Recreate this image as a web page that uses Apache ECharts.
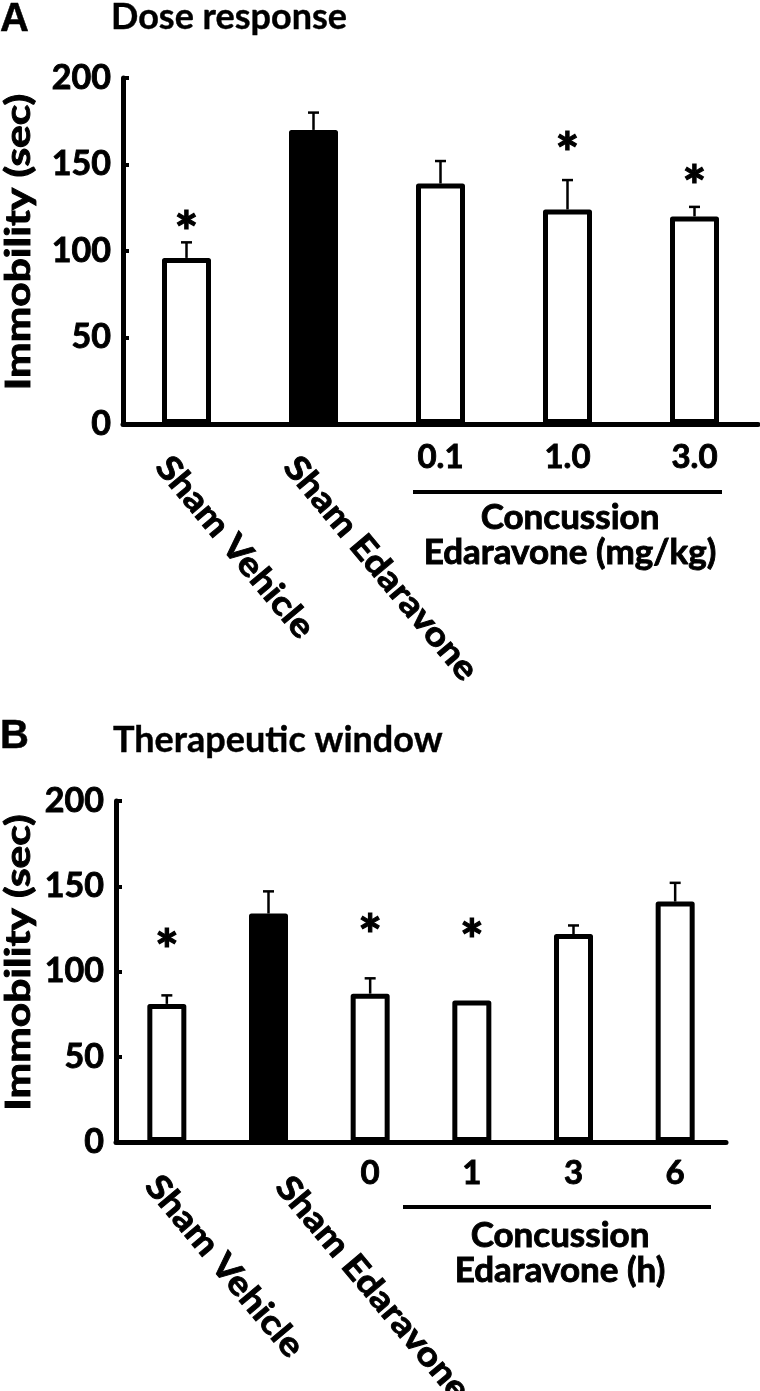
<!DOCTYPE html>
<html><head><meta charset="utf-8">
<script src="https://cdn.jsdelivr.net/npm/echarts/dist/echarts.min.js"></script>
<style>html,body{margin:0;padding:0;background:#fff}#c{width:760px;height:1391px}</style>
</head><body><div id="c"></div>
<script>
// ---- data ----
const categoriesA = ['Sham Vehicle', 'Sham Edaravone', '0.1', '1.0', '3.0'];
const valuesA = [96, 170, 139, 124, 120];
const errorsA = [9, 10, 13, 17, 5.5];
const starsA = [118.6, null, null, 164.4, 145.3];

const categoriesB = ['Sham Vehicle', 'Sham Edaravone', '0', '1', '3', '6'];
const valuesB = [81, 134, 87, 83, 122, 141];
const errorsB = [5, 13, 9, 0, 5, 11];
const starsB = [120.3, null, 129, 126.1, null, null];

const yMin = 0, yMax = 200, yStep = 50;
const titleA = 'Dose response';
const titleB = 'Therapeutic window';
const yTitle = 'Immobility (sec)';
const groupLabelA = ['Concussion', 'Edaravone (mg/kg)'];
const groupLabelB = ['Concussion', 'Edaravone (h)'];
const blackCategory = 'Sham Edaravone';

// ---- chart ----
const FONT = 'Lato, "Open Sans", sans-serif';
const HEAVY = 0.9; // extra stroke to mimic the heavy original weight
const chart = echarts.init(document.getElementById('c'), null, {renderer: 'canvas'});

function isSham(v) { return v.indexOf('Sham') === 0; }

function xAxisCfg(gi, cats, margin) {
  return {
    type: 'category', gridIndex: gi, data: cats,
    axisLine: {show: true, lineStyle: {color: '#000', width: 5}},
    axisTick: {show: false},
    splitLine: {show: false},
    axisLabel: {
      interval: (idx, v) => !isSham(v),
      margin: margin, color: '#000', fontFamily: FONT, fontWeight: 'bold', fontSize: 33,
      textBorderColor: '#000', textBorderWidth: HEAVY
    }
  };
}
function yAxisCfg(gi) {
  return {
    type: 'value', gridIndex: gi, min: yMin, max: yMax, interval: yStep,
    axisLine: {show: true, lineStyle: {color: '#000', width: 5}},
    axisTick: {show: true, inside: true, length: 6, lineStyle: {color: '#000', width: 4}},
    splitLine: {show: false},
    axisLabel: {margin: 12, color: '#000', fontFamily: FONT, fontWeight: 'bold', fontSize: 34,
      textBorderColor: '#000', textBorderWidth: HEAVY}
  };
}
function barSeries(gi, cats, vals, bw) {
  return {
    type: 'bar', xAxisIndex: gi, yAxisIndex: gi, barWidth: bw, z: 2,
    data: vals.map((v, i) => ({
      value: v,
      itemStyle: {
        color: cats[i] === blackCategory ? '#000' : '#fff',
        borderColor: '#000', borderWidth: 5, borderJoin: 'round'
      }
    })),
    emphasis: {disabled: true}
  };
}
function errSeries(gi, vals, errs) {
  return {
    type: 'custom', xAxisIndex: gi, yAxisIndex: gi, z: 3, silent: true,
    data: vals.map((v, i) => [i, v, v + errs[i]]),
    renderItem(params, api) {
      const x = api.value(0);
      const lo = api.coord([x, api.value(1)]);
      const hi = api.coord([x, api.value(2)]);
      if (lo[1] - hi[1] < 1) return null;
      const hw = 5.5;
      return {type: 'group', children: [
        {type: 'line', shape: {x1: lo[0], y1: lo[1], x2: hi[0], y2: hi[1]}, style: {stroke: '#000', lineWidth: 2.5}},
        {type: 'line', shape: {x1: hi[0] - hw, y1: hi[1], x2: hi[0] + hw, y2: hi[1]}, style: {stroke: '#000', lineWidth: 2.5}}
      ]};
    }
  };
}
function starSeries(gi, stars) {
  return {
    type: 'custom', xAxisIndex: gi, yAxisIndex: gi, z: 4, silent: true,
    data: stars.map((v, i) => v == null ? null : [i, v]).filter(Boolean),
    renderItem(params, api) {
      const p = api.coord([api.value(0), api.value(1)]);
      return {type: 'text', x: p[0], y: p[1] + 15,
        style: {text: '*', font: 'bold 56px ' + FONT, align: 'center', verticalAlign: 'middle',
          fill: '#000', stroke: '#000', lineWidth: 1.2}};
    }
  };
}

chart.setOption({
  animation: false,
  backgroundColor: '#fff',
  grid: [
    {left: 123, width: 635, top: 78, height: 346},
    {left: 116, width: 610, top: 801, height: 341}
  ],
  xAxis: [xAxisCfg(0, categoriesA, 17), xAxisCfg(1, categoriesB, 15)],
  yAxis: [yAxisCfg(0), yAxisCfg(1)],
  series: [
    barSeries(0, categoriesA, valuesA, 49),
    errSeries(0, valuesA, errorsA),
    starSeries(0, starsA),
    barSeries(1, categoriesB, valuesB, 39),
    errSeries(1, valuesB, errorsB),
    starSeries(1, starsB)
  ]
});

// ---- annotations positioned from the axes ----
function txt(x, y, text, size, opts) {
  opts = opts || {};
  return Object.assign({
    type: 'text', x: x, y: y, silent: true,
    style: Object.assign({text: text, font: 'bold ' + size + 'px ' + FONT, fill: '#000',
      stroke: '#000', lineWidth: HEAVY,
      align: 'center', verticalAlign: 'middle'}, opts.style || {})
  }, opts.el || {});
}
const gr = [];
const LETTER = 'bold 40px "Liberation Sans", Arial, sans-serif';
// panel letters & titles
gr.push(txt(0, 20, 'A', 40, {style: {align: 'left', font: LETTER, lineWidth: 0.5}}));
gr.push(txt(111, 17, titleA, 36, {style: {align: 'left', lineWidth: 0.4}}));
gr.push(txt(0, 737, 'B', 40, {style: {align: 'left', font: LETTER, lineWidth: 0.5}}));
gr.push(txt(113, 740, titleB, 36, {style: {align: 'left', lineWidth: 0.4}}));

// y titles (rotated)
function yTitleEl(gi) {
  const top = chart.convertToPixel({gridIndex: gi}, [0, yMax]);
  const bot = chart.convertToPixel({gridIndex: gi}, [0, yMin]);
  const cy = (top[1] + bot[1]) / 2 - 9;
  return txt(19, cy, yTitle, 34, {el: {rotation: Math.PI / 2, scaleX: 1.25}});
}
gr.push(yTitleEl(0), yTitleEl(1));

// rotated sham labels
const rot = -50 * Math.PI / 180;
function shamLabels(gi, cats, offsets) {
  let k = 0;
  cats.forEach((c, i) => {
    if (!isSham(c)) return;
    const p = chart.convertToPixel({gridIndex: gi}, [i, 0]);
    const o = offsets[k++];
    gr.push(txt(p[0] + o[0], p[1] + o[1], c, 34, {style: {align: 'left'}, el: {rotation: rot, scaleX: 1.12}}));
  });
}
shamLabels(0, categoriesA, [[-24, 37], [-23, 37]]);
shamLabels(1, categoriesB, [[-15, 38], [14, 39]]);

// group line + label
gr.push({type: 'line', silent: true, shape: {x1: 413, y1: 492, x2: 722, y2: 492}, style: {stroke: '#000', lineWidth: 4}});
gr.push(txt(570, 518, groupLabelA[0], 35));
gr.push(txt(570, 553, groupLabelA[1], 35));
gr.push({type: 'line', silent: true, shape: {x1: 403, y1: 1207, x2: 711, y2: 1207}, style: {stroke: '#000', lineWidth: 4}});
gr.push(txt(560, 1236, groupLabelB[0], 35));
gr.push(txt(560, 1271, groupLabelB[1], 35));

chart.setOption({graphic: gr});
</script>
</body></html>
